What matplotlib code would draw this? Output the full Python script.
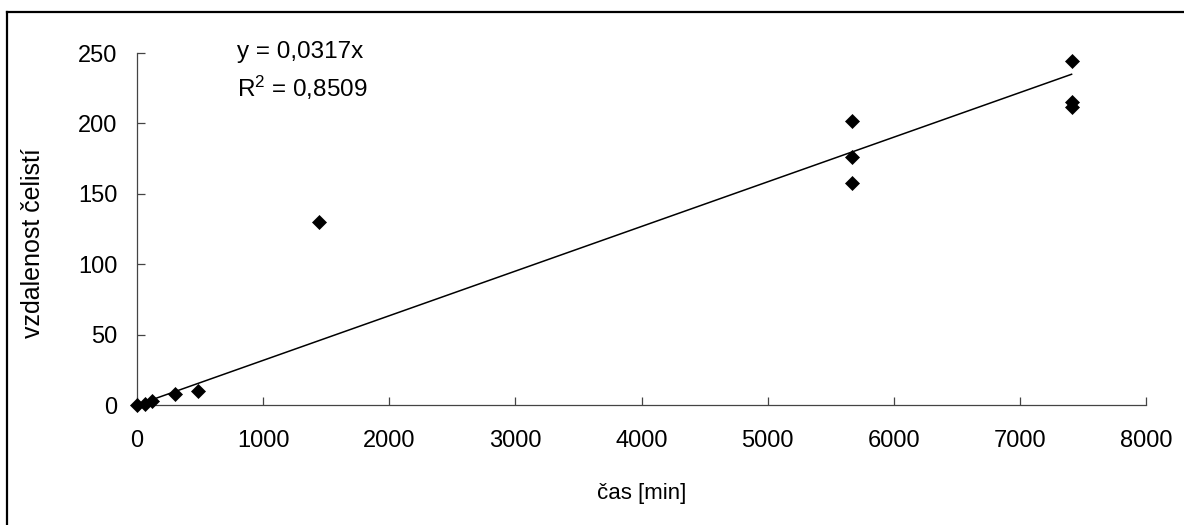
import numpy as np
import matplotlib
matplotlib.use("Agg")
import matplotlib.pyplot as plt
from matplotlib.lines import Line2D

plt.rcParams['font.family'] = ['Liberation Sans', 'DejaVu Sans']
plt.rcParams['mathtext.fontset'] = 'custom'
plt.rcParams['mathtext.rm'] = 'Liberation Sans'
plt.rcParams['mathtext.default'] = 'regular'

# time [min] and jaw distance
cas = [0, 60, 120, 300, 480, 1440, 5670, 5670, 5670, 7410, 7410, 7410]
vzdalenost = [0, 1, 3, 8, 10, 130, 202, 176, 158, 244, 215, 212]
slope = 0.0317
x_ticks = [0, 1000, 2000, 3000, 4000, 5000, 6000, 7000, 8000]
y_ticks = [0, 50, 100, 150, 200, 250]

W, H = 1184, 525
fig = plt.figure(figsize=(W / 100, H / 100), dpi=100)
ax = fig.add_axes([137 / W, 1 - 405 / H, (1146 - 137) / W, (405 - 53) / H])

# outer chart border (only top and left edges fall inside the picture)
bx, by = 7 / W, 1 - 12 / H
fig.add_artist(Line2D([bx, bx], [-0.05, by], transform=fig.transFigure,
                      color='black', linewidth=1.6, solid_capstyle='projecting'))
fig.add_artist(Line2D([bx, 1.05], [by, by], transform=fig.transFigure,
                      color='black', linewidth=1.6, solid_capstyle='projecting'))

ax.plot(cas, vzdalenost, linestyle='none', marker='D', markersize=7.3,
        color='black', markeredgewidth=0.5, clip_on=False, zorder=3)
xs = np.array([0, max(cas)])
ax.plot(xs, slope * xs, color='black', linewidth=1.1, zorder=2)

ax.set_xlim(0, 8000)
ax.set_ylim(0, 250)
ax.set_xticks(x_ticks)
ax.set_yticks(y_ticks)
for s in ['top', 'right']:
    ax.spines[s].set_visible(False)
for s in ['left', 'bottom']:
    ax.spines[s].set_color('#444444')
    ax.spines[s].set_linewidth(0.9)
ax.tick_params(direction='in', length=6, width=0.9, color='#444444',
               labelsize=17)
ax.tick_params(axis='x', pad=18)
ax.tick_params(axis='y', pad=14)

ax.set_xlabel("čas [min]", fontsize=16)
ax.set_ylabel("vzdalenost čelistí", fontsize=18)
ax.xaxis.set_label_coords(0.5, (405 - 494) / 352)
ax.xaxis.label.set_va('center')
ax.yaxis.set_label_coords((33 - 137) / 1009, (405 - 243) / 352)
ax.yaxis.label.set_va('center')

fig.text(237 / W, 1 - 52 / H, "y = 0,0317x", fontsize=17.5, va='center')
fig.text(237 / W, 1 - 88 / H, "R$^2$ = 0,8509", fontsize=17.5, va='center')

fig.savefig("out.png", dpi=100)
